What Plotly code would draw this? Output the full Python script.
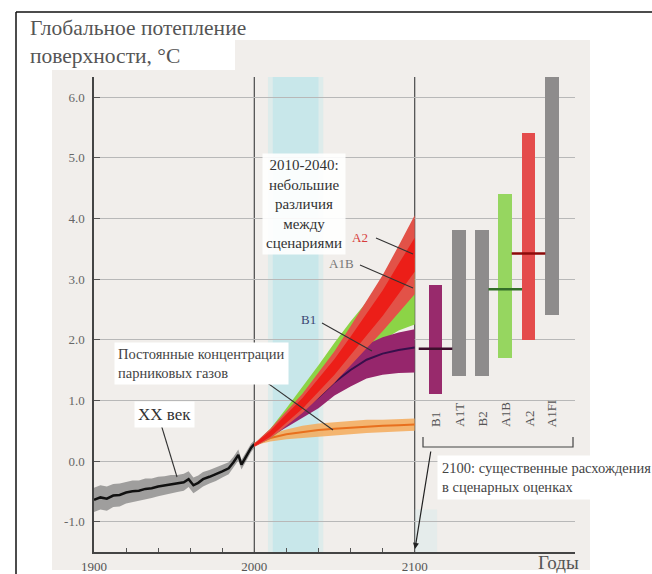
import plotly.graph_objects as go

# ---------------- data ----------------
years_20c = [1900, 1904, 1908, 1912, 1916, 1920, 1924, 1928, 1932, 1936, 1940, 1944, 1948,
             1952, 1956, 1959, 1962, 1965, 1968, 1972, 1976, 1980, 1984, 1987, 1990, 1992,
             1995, 1998, 2000]
temp_20c = [-0.64, -0.60, -0.62, -0.57, -0.56, -0.52, -0.50, -0.49, -0.46, -0.45, -0.42, -0.40,
            -0.38, -0.37, -0.35, -0.30, -0.40, -0.36, -0.30, -0.26, -0.22, -0.17, -0.12, -0.02,
            0.10, -0.06, 0.08, 0.22, 0.28]
spread_20c = [0.20, 0.20, 0.20, 0.19, 0.19, 0.18, 0.18, 0.17, 0.17, 0.16, 0.16, 0.15, 0.15,
              0.14, 0.14, 0.13, 0.13, 0.12, 0.12, 0.11, 0.11, 0.10, 0.10, 0.09, 0.09, 0.08,
              0.08, 0.07, 0.06]

proj_years = [2000, 2010, 2020, 2030, 2040, 2050, 2060, 2070, 2080, 2090, 2100]
commit_mid = [0.28, 0.38, 0.44, 0.48, 0.51, 0.53, 0.55, 0.57, 0.58, 0.59, 0.60]
commit_hw = [0.02, 0.06, 0.08, 0.10, 0.11, 0.11, 0.11, 0.11, 0.10, 0.10, 0.10]

a1b_mid = [0.26, 0.45, 0.72, 1.00, 1.30, 1.62, 1.92, 2.20, 2.45, 2.65, 2.80]
a1b_hw = [0.02, 0.08, 0.15, 0.22, 0.28, 0.33, 0.38, 0.42, 0.46, 0.50, 0.55]

b1_mid = [0.26, 0.45, 0.65, 0.85, 1.05, 1.30, 1.50, 1.67, 1.77, 1.83, 1.87]
b1_up = [0.02, 0.06, 0.10, 0.14, 0.18, 0.20, 0.23, 0.25, 0.27, 0.29, 0.30]
b1_dn = [0.02, 0.06, 0.10, 0.14, 0.18, 0.22, 0.27, 0.31, 0.35, 0.38, 0.41]

a2_mid = [0.26, 0.45, 0.70, 0.95, 1.25, 1.55, 1.90, 2.25, 2.60, 3.00, 3.40]
a2_hw_outer = [0.03, 0.08, 0.12, 0.16, 0.21, 0.26, 0.32, 0.39, 0.46, 0.55, 0.65]
a2_hw_inner = [0.02, 0.05, 0.07, 0.09, 0.11, 0.13, 0.15, 0.18, 0.21, 0.25, 0.28]

bar_names = ["B1", "A1T", "B2", "A1B", "A2", "A1FI"]
bar_pos = [2113, 2127.5, 2142, 2156.5, 2171, 2185.5]
bar_low = [1.1, 1.4, 1.4, 1.7, 2.0, 2.4]
bar_high = [2.9, 3.8, 3.8, 4.4, 5.4, 6.4]
bar_colors = ["rgb(152,42,108)", "rgb(142,140,140)", "rgb(142,140,140)",
              "rgb(150,214,96)", "rgb(228,76,76)", "rgb(142,140,140)"]
best_names = ["B1", "A1B", "A2"]
best_pos = [2113, 2156.5, 2171]
best_val = [1.85, 2.83, 3.42]
best_colors = ["rgb(60,15,45)", "rgb(50,110,40)", "rgb(140,10,10)"]

ytick_vals = [-1, 0, 1, 2, 3, 4, 5, 6]
ytick_text = ["-1.0", "0.0", "1.0", "2.0", "3.0", "4.0", "5.0", "6.0"]
xtick_vals = [1900, 1920, 1940, 1960, 1980, 2000, 2020, 2040, 2060, 2080, 2100]
xtick_text = ["1900", "", "", "", "", "2000", "", "", "", "", "2100"]

# ---------------- geometry helpers (pixel -> axis/paper) ----------------
W, H = 652, 574
L, R, T, B = 94, 77, 77, 22
XR = [1900, 2200]
YR = [-1.5, 6.33]
PW, PH = W - L - R, H - T - B


def X(px):
    return XR[0] + (px - L) * (XR[1] - XR[0]) / PW


def Y(py):
    return YR[0] + (H - B - py) * (YR[1] - YR[0]) / PH


def XP(px):
    return (px - L) / PW


def YP(py):
    return (H - B - py) / PH


SERIF = "Liberation Serif, Times New Roman, serif"
TXT = "#555555"


def band(xs, lo, hi, color, name):
    return go.Scatter(x=list(xs) + list(xs)[::-1], y=list(hi) + list(lo)[::-1],
                      fill="toself", fillcolor=color, line=dict(width=0),
                      mode="lines", hoverinfo="skip", showlegend=False, name=name)


fig = go.Figure()

# 20th century
fig.add_trace(band(years_20c, [m - s for m, s in zip(temp_20c, spread_20c)],
                   [m + s for m, s in zip(temp_20c, spread_20c)],
                   "rgba(105,105,105,0.6)", "XX band"))
fig.add_trace(go.Scatter(x=years_20c, y=temp_20c, mode="lines",
                         line=dict(color="#111", width=2.5), showlegend=False))

# constant composition
fig.add_trace(band(proj_years, [m - h for m, h in zip(commit_mid, commit_hw)],
                   [m + h for m, h in zip(commit_mid, commit_hw)],
                   "rgba(245,170,90,0.85)", "commit"))
fig.add_trace(go.Scatter(x=proj_years, y=commit_mid, mode="lines",
                         line=dict(color="rgb(232,112,30)", width=2), showlegend=False))
# A1B
fig.add_trace(band(proj_years, [m - h for m, h in zip(a1b_mid, a1b_hw)],
                   [m + h for m, h in zip(a1b_mid, a1b_hw)],
                   "rgb(140,212,70)", "A1B"))
# B1
fig.add_trace(band(proj_years, [m - h for m, h in zip(b1_mid, b1_dn)],
                   [m + h for m, h in zip(b1_mid, b1_up)],
                   "rgb(150,38,108)", "B1"))
fig.add_trace(go.Scatter(x=proj_years, y=b1_mid, mode="lines",
                         line=dict(color="rgb(55,15,75)", width=2), showlegend=False))
# A2
fig.add_trace(band(proj_years, [m - h for m, h in zip(a2_mid, a2_hw_outer)],
                   [m + h for m, h in zip(a2_mid, a2_hw_outer)],
                   "rgb(226,82,72)", "A2 outer"))
fig.add_trace(band(proj_years, [m - h for m, h in zip(a2_mid, a2_hw_inner)],
                   [m + h for m, h in zip(a2_mid, a2_hw_inner)],
                   "rgb(236,30,24)", "A2 inner"))

# 2100 bars
fig.add_trace(go.Bar(x=bar_pos, y=[h - l for h, l in zip(bar_high, bar_low)], base=bar_low,
                     width=8.7, marker=dict(color=bar_colors, line=dict(width=0)),
                     showlegend=False, hoverinfo="skip"))
fig.add_trace(go.Scatter(x=best_pos, y=best_val, mode="markers",
                         marker=dict(symbol="line-ew", size=24,
                                     line=dict(width=2.5, color=best_colors)),
                         showlegend=False))

shapes = []
# panel background and title white box
shapes.append(dict(type="rect", xref="paper", yref="paper", x0=XP(52), x1=XP(590),
                   y0=YP(570), y1=YP(40), fillcolor="rgb(241,238,235)", line=dict(width=0),
                   layer="below"))
shapes.append(dict(type="rect", xref="paper", yref="paper", x0=XP(16), x1=XP(235),
                   y0=YP(70), y1=YP(12), fillcolor="white", line=dict(width=0),
                   layer="below"))
# 2010-2040 blue band (soft edges)
shapes.append(dict(type="rect", xref="x", yref="paper", x0=2008.5, x1=2043, y0=0, y1=1,
                   fillcolor="rgba(200,232,236,0.45)", line=dict(width=0), layer="below"))
shapes.append(dict(type="rect", xref="x", yref="paper", x0=2011.5, x1=2040, y0=0, y1=1,
                   fillcolor="rgba(196,230,234,0.85)", line=dict(width=0), layer="below"))
shapes.append(dict(type="rect", xref="x", yref="y", x0=2100, x1=2114, y0=-1.5, y1=-0.8,
                   fillcolor="rgba(196,230,234,0.25)", line=dict(width=0), layer="below"))
# 2000 and 2100 verticals
for yr in (2000, 2100):
    shapes.append(dict(type="line", xref="x", yref="paper", x0=yr, x1=yr, y0=0, y1=1,
                       line=dict(color="#555", width=1.3), layer="between"))
# leader lines
leaders = [((160, 421), (177, 477)),      # XX век
           ((252, 372), (333, 430)),      # constant composition
           ((376, 238), (413, 254)),      # A2
           ((360, 265), (413, 288)),      # A1B
           ((322, 323), (372, 351))]      # B1
for (p0, p1) in leaders:
    shapes.append(dict(type="line", xref="x", yref="y", x0=X(p0[0]), y0=Y(p0[1]),
                       x1=X(p1[0]), y1=Y(p1[1]), line=dict(color="#333", width=1.1),
                       layer="above"))
# bracket under bars
shapes.append(dict(type="path", xref="x", yref="y",
                   path=f"M {X(423)} {Y(437)} L {X(423)} {Y(447)} L {X(573)} {Y(447)} L {X(573)} {Y(437)}",
                   line=dict(color="#444", width=1.2), layer="above"))
# figure border (top & left)
shapes.append(dict(type="line", xref="paper", yref="paper", x0=XP(16), x1=XP(652),
                   y0=YP(12), y1=YP(12), line=dict(color="#111", width=1.5), layer="above"))
shapes.append(dict(type="line", xref="paper", yref="paper", x0=XP(16), x1=XP(16),
                   y0=YP(12), y1=YP(574), line=dict(color="#111", width=1.5), layer="above"))

ann = []
ann.append(dict(xref="paper", yref="paper", x=XP(28), y=YP(14), xanchor="left", yanchor="top",
                text="Глобальное потепление<br>поверхности, °С", align="left", showarrow=False,
                font=dict(family=SERIF, size=21.5, color=TXT)))
ann.append(dict(xref="x", yref="y", x=X(304), y=Y(204),
                text="2010-2040:<br>небольшие<br>различия<br>между<br>сценариями",
                align="center", showarrow=False, bgcolor="rgba(255,255,255,0.9)", borderpad=3,
                font=dict(family=SERIF, size=15, color="#333")))
ann.append(dict(xref="x", yref="y", x=X(360), y=Y(237), text="A2", showarrow=False,
                font=dict(family=SERIF, size=13, color="rgb(215,60,60)")))
ann.append(dict(xref="x", yref="y", x=X(341), y=Y(263), text="A1B", showarrow=False,
                font=dict(family=SERIF, size=13, color="#777")))
ann.append(dict(xref="x", yref="y", x=X(308), y=Y(319), text="B1", showarrow=False,
                font=dict(family=SERIF, size=13, color="rgb(60,70,115)")))
ann.append(dict(xref="x", yref="y", x=X(114), y=Y(363), xanchor="left", yanchor="middle",
                text="Постоянные концентрации<br>парниковых газов", align="left",
                showarrow=False, bgcolor="white", borderpad=3,
                font=dict(family=SERIF, size=14.5, color="#444")))
ann.append(dict(xref="x", yref="y", x=X(164), y=Y(414), text="XX век", showarrow=False,
                bgcolor="white", borderpad=3, font=dict(family=SERIF, size=17, color="#333")))
ann.append(dict(xref="x", yref="y", x=X(437), y=Y(477), xanchor="left", yanchor="middle",
                text="2100: существенные расхождения<br>в сценарных оценках", align="left",
                showarrow=False, bgcolor="white", borderpad=4,
                font=dict(family=SERIF, size=14.5, color="#444")))
ann.append(dict(xref="x", yref="y", x=X(415), y=Y(549), ax=X(431), ay=Y(450),
                axref="x", ayref="y", text="", showarrow=True, arrowhead=2, arrowsize=1,
                arrowwidth=1.2, arrowcolor="#222"))
for name, pos in zip(bar_names, bar_pos):
    ann.append(dict(xref="x", yref="y", x=pos, y=Y(429), yanchor="bottom", text=name,
                    textangle=-90, showarrow=False,
                    font=dict(family=SERIF, size=13, color="#555")))
ann.append(dict(xref="paper", yref="paper", x=XP(558), y=YP(562), xanchor="center",
                yanchor="middle", text="Годы",
                showarrow=False, font=dict(family=SERIF, size=19, color=TXT)))

fig.update_layout(
    width=W, height=H, margin=dict(l=L, r=R, t=T, b=B, autoexpand=False),
    paper_bgcolor="white", plot_bgcolor="rgba(0,0,0,0)",
    shapes=shapes, annotations=ann, showlegend=False, bargap=0,
    xaxis=dict(range=XR, tickvals=xtick_vals, ticktext=xtick_text, ticks="inside",
               ticklen=4, tickcolor="#555", showgrid=False, zeroline=False, showline=True,
               linecolor="#444", linewidth=1.5, ticklabelstandoff=2, automargin=False,
               tickfont=dict(family=SERIF, size=13, color="#555")),
    yaxis=dict(range=YR, tickvals=ytick_vals, ticktext=ytick_text, ticks="inside",
               ticklen=6, tickcolor="#555", showgrid=True, gridcolor="#b8b8b8",
               gridwidth=1, zeroline=False, showline=True, linecolor="#444", linewidth=1.5,
               ticklabelstandoff=5, automargin=False,
               tickfont=dict(family=SERIF, size=13, color="#666")),
)

fig.write_html("out.html")
